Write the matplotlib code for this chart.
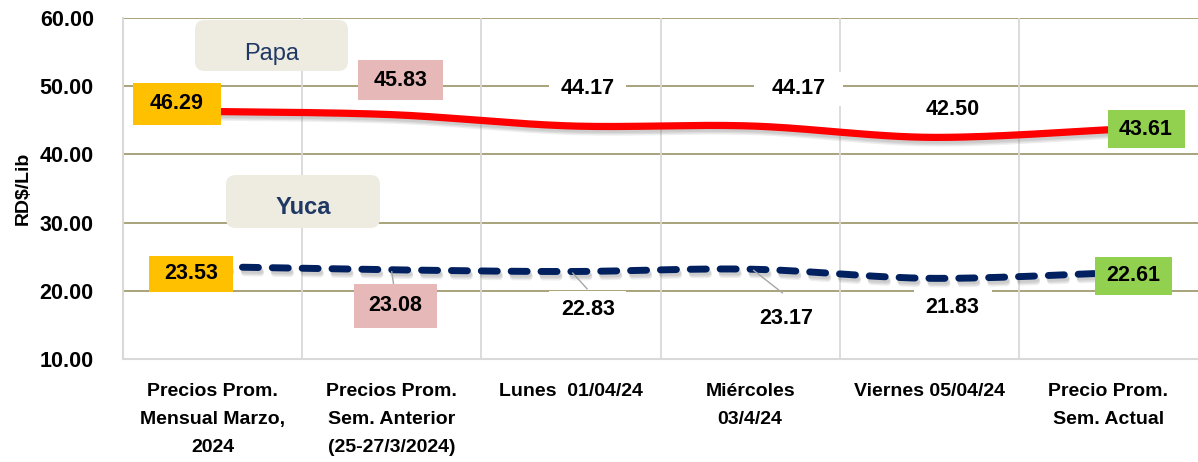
import numpy as np
import matplotlib
matplotlib.use("Agg")
import matplotlib.pyplot as plt
import matplotlib.patheffects as pe
from matplotlib.patches import FancyBboxPatch
from matplotlib.path import Path

categories = ["Precios Prom.\nMensual Marzo,\n2024",
              "Precios Prom.\nSem. Anterior\n(25-27/3/2024)",
              "Lunes  01/04/24",
              "Miércoles\n03/4/24",
              "Viernes 05/04/24",
              "Precio Prom.\nSem. Actual"]
papa = [46.29, 45.83, 44.17, 44.17, 42.50, 43.61]
yuca = [23.53, 23.08, 22.83, 23.17, 21.83, 22.61]
yticks = [10, 20, 30, 40, 50, 60]

FONT = "Liberation Sans"
plt.rcParams['font.family'] = [FONT, 'DejaVu Sans']

W, H = 1198, 462
fig = plt.figure(figsize=(W / 100, H / 100), dpi=100)
ax = fig.add_axes([123 / W, 103 / H, 1 - 123 / W, (359 - 18) / H])

def smooth(xs, ys, n=30):
    x = np.asarray(xs, float); y = np.asarray(ys, float)
    P = np.column_stack([x, y])
    Pe = np.vstack([P[0], P, P[-1]])
    out = []
    t = np.linspace(0, 1, n)[:, None]
    for i in range(len(P) - 1):
        p0, p3 = Pe[i + 1], Pe[i + 2]
        c1 = p0 + (Pe[i + 2] - Pe[i]) / 6
        c2 = p3 - (Pe[i + 3] - Pe[i + 1]) / 6
        seg = ((1 - t) ** 3) * p0 + 3 * ((1 - t) ** 2) * t * c1 + 3 * (1 - t) * t ** 2 * c2 + t ** 3 * p3
        out.append(seg if i == 0 else seg[1:])
    s = np.vstack(out)
    return s[:, 0], s[:, 1]

xs = np.arange(len(categories))

# grid
for v in yticks[1:]:
    ax.axhline(v, color="#A39C70", lw=1.3, zorder=1)
for k in range(len(categories) - 1):
    ax.axvline(k + 0.5, color="#D9D9D9", lw=1.3, zorder=1)

def shadow():
    return [pe.SimpleLineShadow(offset=(1.5, -4.0), shadow_color="#777777", alpha=0.12),
            pe.SimpleLineShadow(offset=(1.5, -3.0), shadow_color="#777777", alpha=0.15),
            pe.SimpleLineShadow(offset=(1.0, -2.0), shadow_color="#777777", alpha=0.15),
            pe.Normal()]
sx, sy = smooth(xs, papa)
ax.plot(sx, sy, color="#FF0000", lw=5.2, solid_capstyle="butt", zorder=3, path_effects=shadow())
sx, sy = smooth(xs, yuca)
ax.plot(sx, sy, color="#002060", lw=5.0, dashes=(2.3, 2.0), dash_capstyle="round",
        zorder=3, path_effects=shadow())

ax.set_xlim(-0.5, 5.5)
ax.set_ylim(10, 60)
ax.set_yticks(yticks)
ax.set_yticklabels([f"{v:.2f}" for v in yticks], fontsize=15.5, fontweight="bold")
ax.set_xticks(xs)
ax.set_xticklabels(categories, fontsize=14, fontweight="bold", linespacing=1.86)
ax.tick_params(length=0, axis="y", pad=21)
ax.tick_params(length=0, axis="x", pad=17)
for s in ["top", "right"]:
    ax.spines[s].set_visible(False)
for s in ["left", "bottom"]:
    ax.spines[s].set_color("#D9D9D9")
    ax.spines[s].set_linewidth(1.5)
ax.set_ylabel("RD$/Lib", fontsize=14, fontweight="bold", labelpad=6)

def fixed_box(bw, bh):
    def style(x0, y0, width, height, mutation_size):
        cx, cy = x0 + width / 2, y0 + height / 2
        l, r, b, t = cx - bw / 2, cx + bw / 2, cy - bh / 2, cy + bh / 2
        return Path([(l, b), (r, b), (r, t), (l, t), (l, b)],
                    [Path.MOVETO, Path.LINETO, Path.LINETO, Path.LINETO, Path.CLOSEPOLY])
    return style

LBL = dict(fontsize=15.5, fontweight="bold", ha="center", va="center", zorder=6)
def box(x, y, val, fc, bw, bh):
    ax.text(x, y, f"{val:.2f}", bbox=dict(boxstyle=fixed_box(bw, bh), fc=fc, ec="none"), **LBL)

# Papa labels
box(-0.2, 47.4, papa[0], "#FFC000", 88, 42)
box(1.05, 50.9, papa[1], "#E6B8B7", 85, 40)
box(2.095, 49.7, papa[2], "white", 77, 34)
box(3.27, 49.6, papa[3], "white", 89, 34)
box(4.13, 46.6, papa[4], "white", 80, 34)
box(5.21, 43.7, papa[5], "#92D050", 77, 38)

# Yuca labels (leader lines)
ax.plot([1.0, 1.01], [22.8, 21.0], color="#A6A6A6", lw=1, zorder=4)
ax.plot([2.01, 2.09], [22.6, 20.3], color="#A6A6A6", lw=1, zorder=4)
ax.plot([3.02, 3.18], [23.0, 19.7], color="#A6A6A6", lw=1, zorder=4)
box(-0.12, 22.5, yuca[0], "#FFC000", 84, 36)
box(1.02, 17.8, yuca[1], "#E6B8B7", 83, 44)
box(2.095, 17.3, yuca[2], "white", 77, 36)
box(3.20, 15.9, yuca[3], "white", 80, 34)
box(4.13, 17.6, yuca[4], "white", 78, 38)
box(5.14, 22.2, yuca[5], "#92D050", 77, 38)

# series name boxes
asp = W / H
for (x0, y0, w, h, name, wt, base) in [(195, 20, 153, 51, "Papa", "normal", 60),
                                        (226, 175, 154, 53, "Yuca", "bold", 214)]:
    p = FancyBboxPatch((x0 / W, 1 - (y0 + h) / H), w / W, h / H,
                       boxstyle="round,pad=0,rounding_size=0.008", mutation_aspect=asp,
                       transform=fig.transFigure, fc="#EEECE1", ec="none", zorder=5)
    fig.add_artist(p)
    fig.text((x0 + w / 2) / W, 1 - base / H, name, fontsize=17, fontweight=wt,
             color="#1F3864", ha="center", va="baseline", zorder=6)

fig.savefig("out.png", dpi=100)
